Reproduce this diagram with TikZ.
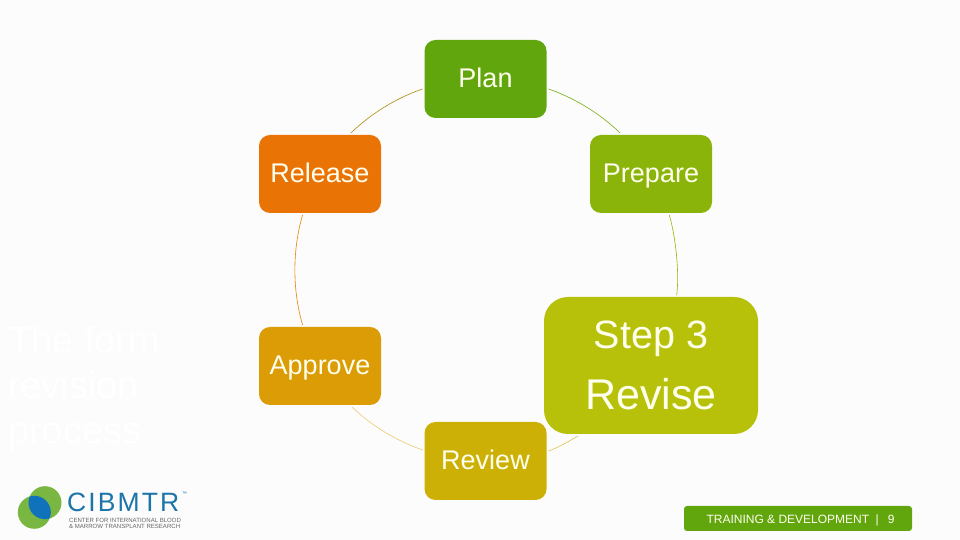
\documentclass[tikz,border=0pt]{standalone}
\usepackage{fontspec}
\setmainfont{Liberation Sans}
\newfontfamily\logofont[LetterSpace=8]{Liberation Sans}
\usepackage{xcolor}
\usetikzlibrary{positioning}
\definecolor{planc}{HTML}{62A60E}
\definecolor{prepc}{HTML}{8BB40A}
\definecolor{stepc}{HTML}{B8C10A}
\definecolor{revwc}{HTML}{CCB006}
\definecolor{apprc}{HTML}{DB9C06}
\definecolor{relsc}{HTML}{EA7305}
\definecolor{txtc}{HTML}{FFFFEE}
\definecolor{logob}{HTML}{1B75A8}
\definecolor{logoc}{HTML}{0F72BA}
\definecolor{logog}{HTML}{7AB642}
\tikzset{
  phase/.style={rounded corners=11pt,minimum width=122pt,minimum height=78pt,inner sep=0pt,outer sep=2pt,text=txtc,align=center,text height=18pt,text depth=0pt,font=\fontsize{27}{30}\selectfont},
  link/.style={line width=0.6pt,looseness=0.85},
}
\begin{document}
\begin{tikzpicture}[x=1pt,y=1pt]
\fill[white!99!black] (0,0) rectangle (960,540);
\useasboundingbox (0,0) rectangle (960,540);
\node[anchor=west,inner sep=0pt,text=white,align=left,font=\fontsize{38}{45}\selectfont] (title) at (8,151) {The form\\revision\\process};
\node[phase,fill=planc] (plan) at (485.5,461) {Plan};
\node[phase,fill=prepc] (prepare) at (651,366) {Prepare};
\node[phase,fill=relsc] (release) at (320,366) {Release};
\node[phase,fill=apprc] (approve) at (320,174) {Approve};
\node[phase,fill=revwc] (review) at (485.5,79) {Review};
\node[phase,fill=stepc,rounded corners=24pt,minimum width=214pt,minimum height=137pt,text height={},text depth={}] (revise) at (651,174.5) {\fontsize{39.5}{40}\selectfont Step 3\\[21pt]\fontsize{43}{44}\selectfont Revise};
\draw[link,draw=planc!45!relsc] (plan.189) to[out=199,in=44] (release.53);
\draw[link,draw=relsc!60!apprc] (release.247) to[out=253.6,in=106.4] (approve.113);
\draw[link,draw=apprc!55!white] (approve.308) to[out=316,in=160.8] (review.170);
\draw[link,draw=revwc!75!white] (review.9) to[out=19.3,in=209.3] (revise.224);
\draw[link,draw=prepc!80!stepc,looseness=0.7] (revise.70) to[out=82.2,in=286.7] (prepare.294);
\draw[link,draw=prepc!50!planc] (prepare.127) to[out=136,in=340.9] (plan.351);
\node[fill=planc,rounded corners=3pt,minimum width=228pt,minimum height=25pt,inner sep=0pt,text=txtc,text height=10pt,text depth=0pt,font=\fontsize{12}{14}\selectfont] (footer) at (798,21.5) {\hspace{5pt}TRAINING \& DEVELOPMENT\hspace{6.5pt}|\hspace{9pt}9};
\fill[logog] (45,37.3) circle (16.5);
\fill[logog] (34.3,27.7) circle (16.5);
\begin{scope}
\clip (45,37.3) circle (16.5);
\fill[logoc] (34.3,27.7) circle (16.5);
\end{scope}
\node[anchor=base west,inner sep=0pt,text=logob,font=\fontsize{26.5}{28}\logofont] (cibmtr) at (67,28) {CIBMTR};
\node[anchor=west,inner sep=0pt,text=logob,font=\fontsize{5}{6}\selectfont] (tm) at (182,46) {™};
\node[anchor=base west,inner sep=0pt,text=black!60,font=\fontsize{6.05}{7}\selectfont] (center) at (69,17) {CENTER FOR INTERNATIONAL BLOOD};
\node[anchor=base west,inner sep=0pt,text=black!60,font=\fontsize{6.05}{7}\selectfont] (marrow) at (69,11) {\& MARROW TRANSPLANT RESEARCH};
\end{tikzpicture}
\end{document}
